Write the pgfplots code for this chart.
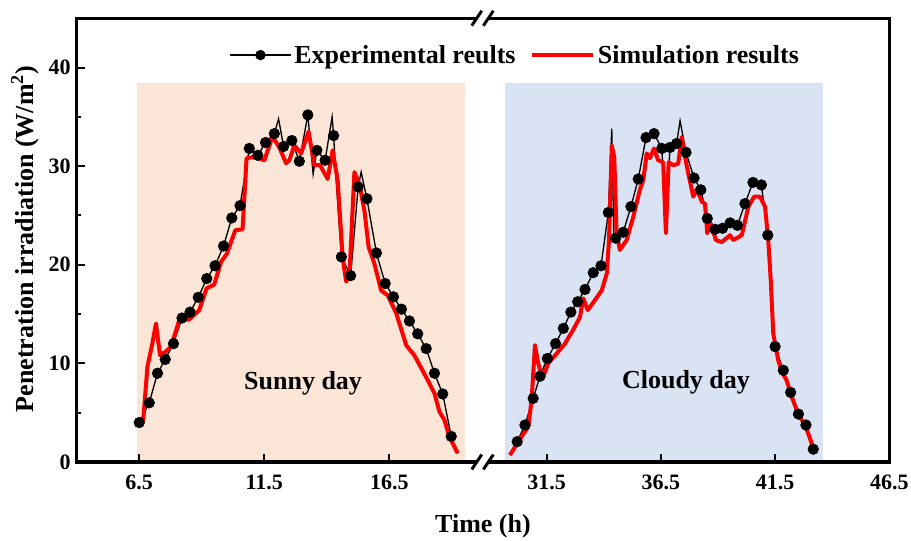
\documentclass[border=0pt]{standalone}
\usepackage{fontspec}
\setmainfont{Liberation Serif}
\usepackage{pgfplots}
\pgfplotsset{compat=1.18}
\definecolor{peach}{HTML}{FBE5D6}
\definecolor{lblue}{HTML}{DAE3F3}
\newcommand{\lab}{\bfseries\fontsize{19.5}{22}\selectfont}
\pgfplotsset{
  base/.style={
    scale only axis, height=332.8pt, ymin=0, ymax=45,
    axis line style={draw=none},
    axis on top,
    tick align=inside, tick pos=left,
    major tick length=6pt, minor tick length=3pt,
    tick style={black, line width=1.5pt},
    /pgf/number format/assume math mode=true,
    ticklabel style={font=\bfseries\fontsize{16.5}{18}\selectfont},
    xticklabel style={yshift=-6pt},
    yticklabel style={xshift=-1pt},
  },
  expline/.style={black, line width=1pt, no markers, forget plot},
  expmark/.style={black, only marks, mark=*, mark size=4pt, forget plot},
  simline/.style={red, line width=3pt, no markers, line join=round, forget plot},
}
\begin{document}
\begin{tikzpicture}
\useasboundingbox (0,0) rectangle (683.25pt,405pt);
% ---------------- left part (sunny day)
\begin{axis}[base, name=L, at={(57.5pt,58.5pt)}, anchor=south west,
  width=304pt, xmin=4, xmax=20.2,
  xtick={6.5,11.5,16.5}, ytick={0,10,20,30,40}, minor y tick num=1,
  legend columns=2,
  legend style={at={(0.3758,0.917)}, anchor=west, draw=none, fill=none,
    inner sep=0pt, font=\lab,
    /tikz/every even column/.append style={column sep=9pt}},
  legend image code/.code={\draw[mark repeat=2,mark phase=2] plot coordinates {(0pt,0pt) (22.9pt,0pt) (45.8pt,0pt)};},
]
\fill[peach] (6.41,0) rectangle (19.53,38.45);
\addplot[expline] coordinates {
(6.5,4.0) (6.9,6.0) (7.23,9.0) (7.54,10.4) (7.87,12.0) (8.21,14.6) (8.53,15.2)
(8.86,16.7) (9.2,18.6) (9.53,19.9) (9.87,21.9) (10.2,24.75) (10.53,26.0)
(10.9,31.8) (11.24,31.1) (11.55,32.4) (11.9,33.3) (12.07,34.8) (12.27,32.0)
(12.6,32.6) (12.9,30.5) (13.24,35.2) (13.45,29.2) (13.6,31.6) (13.93,30.6)
(14.21,35.0) (14.27,33.1) (14.37,28.6) (14.58,20.8) (14.95,18.9) (15.25,27.9)
(15.37,29.4) (15.6,26.7) (15.98,21.2) (16.33,18.1) (16.66,16.75) (16.98,15.5)
(17.3,14.3) (17.63,13.0) (17.97,11.5) (18.3,9.0) (18.63,6.9) (18.97,2.6)};
\addplot[expmark] coordinates {
(6.5,4.0) (6.9,6.0) (7.23,9.0) (7.54,10.4) (7.87,12.0) (8.21,14.6) (8.53,15.2)
(8.86,16.7) (9.2,18.6) (9.53,19.9) (9.87,21.9) (10.2,24.75) (10.53,26.0)
(10.9,31.8) (11.24,31.1) (11.55,32.4) (11.9,33.3) (12.27,32.0)
(12.6,32.6) (12.9,30.5) (13.24,35.2) (13.6,31.6) (13.93,30.6)
(14.27,33.1) (14.58,20.8) (14.95,18.9) (15.25,27.9)
(15.6,26.7) (15.98,21.2) (16.33,18.1) (16.66,16.75) (16.98,15.5)
(17.3,14.3) (17.63,13.0) (17.97,11.5) (18.3,9.0) (18.63,6.9) (18.97,2.6)};
\addplot[simline] coordinates {
(6.5,3.6) (6.66,4.25) (6.83,9.7) (7.0,11.7) (7.17,14.05) (7.33,10.85) (7.57,11.2)
(7.77,11.7) (8.1,14.4) (8.27,14.8) (8.47,14.4) (8.9,15.4) (9.19,17.6) (9.5,18.0)
(9.77,20.3) (10.0,21.1) (10.34,23.5) (10.63,23.6) (10.79,30.8) (10.97,30.9)
(11.2,30.9) (11.5,30.6) (11.83,33.0) (12.1,31.9) (12.37,30.3) (12.5,30.6)
(12.7,32.1) (12.97,31.3) (13.27,33.5) (13.5,30.1) (13.73,30.1) (14.03,28.7)
(14.23,31.6) (14.43,28.6) (14.63,20.8) (14.77,18.3) (14.9,18.8) (15.1,29.4)
(15.3,28.2) (15.5,25.5) (15.67,21.8) (15.9,20.1) (16.17,17.4) (16.43,16.9)
(16.77,15.1) (17.17,11.85) (17.5,10.8) (17.97,8.6) (18.3,6.96) (18.5,5.1)
(18.7,4.25) (18.9,2.56) (19.23,0.88)};
\addlegendimage{black, line width=1pt, mark=*, mark size=3.4pt}
\addlegendentry{Experimental reults}
\addlegendimage{red, line width=3pt}
\addlegendentry{Simulation results}
\node[font=\lab] at (13.05,8.0) {Sunny day};
\end{axis}
% ---------------- right part (cloudy day)
\begin{axis}[base, name=R, at={(361.5pt,58.5pt)}, anchor=south west,
  width=305.5pt, xmin=28.67, xmax=46.5,
  xtick={31.5,36.5,41.5,46.5}, ytick=\empty,
]
\fill[lblue] (29.67,0) rectangle (43.6,38.45);
\addplot[expline] coordinates {
(30.21,2.06) (30.55,3.75) (30.91,6.45) (31.21,8.7) (31.53,10.5) (31.89,12.0)
(32.23,13.55) (32.56,15.2) (32.86,16.25) (33.18,17.5) (33.54,19.2) (33.88,19.9)
(34.2,25.3) (34.35,33.8) (34.44,23.0) (34.52,22.7) (34.85,23.3) (35.19,25.9)
(35.51,28.7) (35.85,32.9) (36.2,33.3) (36.54,31.8) (36.72,24.5) (36.9,31.9)
(37.19,32.3) (37.34,34.6) (37.6,31.4) (37.95,28.8) (38.25,27.6) (38.53,24.7)
(38.87,23.6) (39.2,23.7) (39.53,24.25) (39.85,24.0) (40.18,26.2) (40.53,28.35)
(40.9,28.1) (41.18,23.0) (41.5,11.7) (41.86,9.3) (42.18,7.06) (42.52,4.86)
(42.85,3.75) (43.17,1.3)};
\addplot[expmark] coordinates {
(30.21,2.06) (30.55,3.75) (30.91,6.45) (31.21,8.7) (31.53,10.5) (31.89,12.0)
(32.23,13.55) (32.56,15.2) (32.86,16.25) (33.18,17.5) (33.54,19.2) (33.88,19.9)
(34.2,25.3) (34.52,22.7) (34.85,23.3) (35.19,25.9)
(35.51,28.7) (35.85,32.9) (36.2,33.3) (36.54,31.8) (36.9,31.9)
(37.19,32.3) (37.6,31.4) (37.95,28.8) (38.25,27.6) (38.53,24.7)
(38.87,23.6) (39.2,23.7) (39.53,24.25) (39.85,24.0) (40.18,26.2) (40.53,28.35)
(40.9,28.1) (41.18,23.0) (41.5,11.7) (41.86,9.3) (42.18,7.06) (42.52,4.86)
(42.85,3.75) (43.17,1.3)};
\addplot[simline] coordinates {
(29.89,0.7) (30.26,2.06) (30.7,3.6) (30.84,6.3) (30.99,11.85) (31.13,10.0)
(31.32,8.5) (31.57,10.0) (31.94,11.0) (32.3,12.0) (32.66,13.4) (32.96,14.7)
(33.1,16.6) (33.3,15.4) (33.61,16.4) (33.91,17.4) (34.13,19.1) (34.23,22.5)
(34.35,32.1) (34.46,30.9) (34.56,23.2) (34.71,21.5) (35.0,22.5) (35.29,24.85)
(35.58,27.6) (35.73,28.6) (35.88,31.3) (36.02,30.8) (36.2,31.8) (36.38,30.6)
(36.6,30.4) (36.72,23.2) (36.84,30.4) (37.04,30.1) (37.26,30.25) (37.41,32.95)
(37.56,30.9) (37.7,29.25) (37.92,26.9) (38.07,27.7) (38.29,26.4) (38.43,26.2)
(38.53,23.2) (38.68,24.2) (38.91,22.5) (39.16,22.3) (39.53,23.0) (39.67,22.5)
(40.04,23.0) (40.33,25.9) (40.58,26.9) (40.84,26.9) (41.06,25.9) (41.2,22.5)
(41.31,18.4) (41.42,13.0) (41.64,10.3) (41.79,9.15) (42.0,8.3) (42.23,6.6)
(42.52,4.8) (42.81,3.75) (43.0,2.56) (43.15,1.55)};
\node[font=\lab] at (37.6,8.1) {Cloudy day};
\end{axis}
% ---------------- frame and axis break
\draw[line width=2.5pt] (L.south west) rectangle (R.north east);
\foreach \yy in {58.5pt,391.3pt}{
  \fill[white] (357.6pt,\yy-2pt) rectangle (366.2pt,\yy+2pt);
  \draw[line width=2.2pt] (353.8pt,\yy-5.6pt) -- (361.3pt,\yy+5.6pt);
  \draw[line width=2.2pt] (362.5pt,\yy-5.6pt) -- (370pt,\yy+5.6pt);
}
\node[rotate=90, font=\lab] at (18.75pt,225.75pt) {Penetration irradiation (W/m\textsuperscript{2})};
\node[font=\lab] at (362.25pt,10.5pt) {Time (h)};
\end{tikzpicture}
\end{document}
